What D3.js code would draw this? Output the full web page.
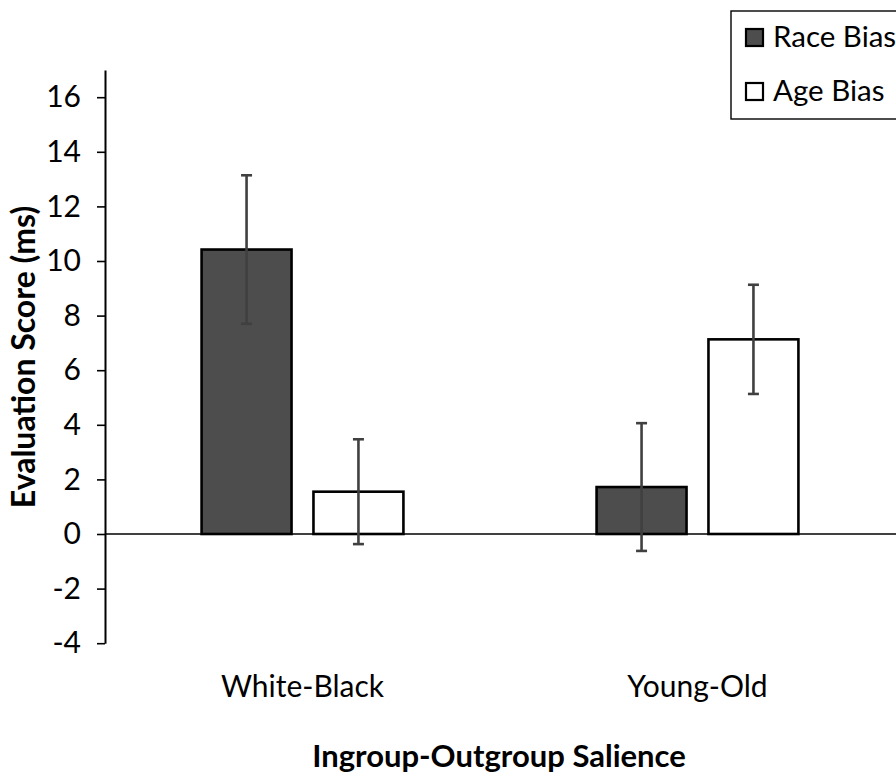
<!DOCTYPE html>
<html>
<head>
<meta charset="utf-8">
<script src="https://cdn.jsdelivr.net/npm/d3@7"></script>
<style>
  body { margin: 0; background: #fff; }
  text { font-family: Lato, "Open Sans", sans-serif; fill: #000; }
</style>
</head>
<body>
<svg width="896" height="776"></svg>
<script>
// data
const groups = ["White-Black", "Young-Old"]
const series = ["Race Bias", "Age Bias"]
const race_vals = [10.42, 1.72]
const age_vals = [1.55, 7.13]
const race_err = [2.72, 2.34]
const age_err = [1.92, 2.0]
const y_ticks = [-4, -2, 0, 2, 4, 6, 8, 10, 12, 14, 16]

const fills = { "Race Bias": "#4d4d4d", "Age Bias": "#ffffff" }

const bar_data = []
groups.forEach((g, i) => {
    bar_data.push({ group: g, series: "Race Bias", value: race_vals[i], err: race_err[i] })
    bar_data.push({ group: g, series: "Age Bias", value: age_vals[i], err: age_err[i] })
})

const svg = d3.select("svg")

const y = d3.scaleLinear().domain([-4, 17]).range([643.2, 69.9])
const x0 = d3.scaleBand().domain(groups).range([105, 895]).paddingInner(0.489).paddingOuter(0.2445)
const x1 = d3.scaleBand().domain(series).range([0, x0.bandwidth()]).paddingInner(0.196).paddingOuter(0)

// y axis
const yAxis = svg.append("g")
    .attr("transform", "translate(105,0)")
    .call(d3.axisLeft(y).tickValues(y_ticks).tickFormat(d => String(d))
        .tickSize(8).tickPadding(16).tickSizeOuter(0))
yAxis.select(".domain").attr("stroke", "#000").attr("stroke-width", 2)
yAxis.selectAll(".tick line").attr("stroke", "#000").attr("stroke-width", 1.6)
yAxis.selectAll(".tick text")
    .attr("font-size", 30)
    .style("font-family", "Lato, sans-serif")
    .attr("fill", "#000")

// bars
svg.append("g")
    .selectAll("rect")
    .data(bar_data)
    .join("rect")
    .attr("x", d => x0(d.group) + x1(d.series))
    .attr("y", d => y(Math.max(0, d.value)))
    .attr("width", x1.bandwidth())
    .attr("height", d => Math.abs(y(d.value) - y(0)))
    .attr("fill", d => fills[d.series])
    .attr("stroke", "#000")
    .attr("stroke-width", 2.6)

// zero line
svg.append("line")
    .attr("x1", 105).attr("x2", 896)
    .attr("y1", y(0)).attr("y2", y(0))
    .attr("stroke", "#000").attr("stroke-width", 1.4)

// error bars
const eb = svg.append("g").attr("stroke", "#404040").attr("stroke-width", 2.6)
bar_data.forEach(d => {
    const cx = x0(d.group) + x1(d.series) + x1.bandwidth() / 2
    eb.append("line").attr("x1", cx).attr("x2", cx)
        .attr("y1", y(d.value + d.err)).attr("y2", y(d.value - d.err))
    ;[d.value + d.err, d.value - d.err].forEach(v => {
        eb.append("line").attr("x1", cx - 5.5).attr("x2", cx + 5.5)
            .attr("y1", y(v)).attr("y2", y(v))
    })
})

// category labels
svg.append("g").selectAll("text")
    .data(groups)
    .join("text")
    .attr("x", d => x0(d) + x0.bandwidth() / 2)
    .attr("y", 697)
    .attr("text-anchor", "middle")
    .attr("font-size", 30)
    .text(d => d)

// axis titles
svg.append("text")
    .attr("x", 499).attr("y", 767)
    .attr("text-anchor", "middle")
    .attr("font-size", 31).attr("font-weight", "bold")
    .text("Ingroup-Outgroup Salience")

svg.append("text")
    .attr("transform", "translate(35,357) rotate(-90)")
    .attr("text-anchor", "middle")
    .attr("font-size", 32).attr("font-weight", "bold")
    .text("Evaluation Score (ms)")

// legend
const lg = svg.append("g")
lg.append("rect")
    .attr("x", 731).attr("y", 11).attr("width", 200).attr("height", 108)
    .attr("fill", "#fff").attr("stroke", "#000").attr("stroke-width", 1.4)
series.forEach((s, i) => {
    const yy = 29 + i * 54
    lg.append("rect").attr("x", 746).attr("y", yy).attr("width", 17).attr("height", 17)
        .attr("fill", fills[s]).attr("stroke", "#000").attr("stroke-width", 2.2)
    lg.append("text").attr("x", 773).attr("y", yy + 18)
        .attr("font-size", 29.5).text(s)
})
</script>
</body>
</html>
